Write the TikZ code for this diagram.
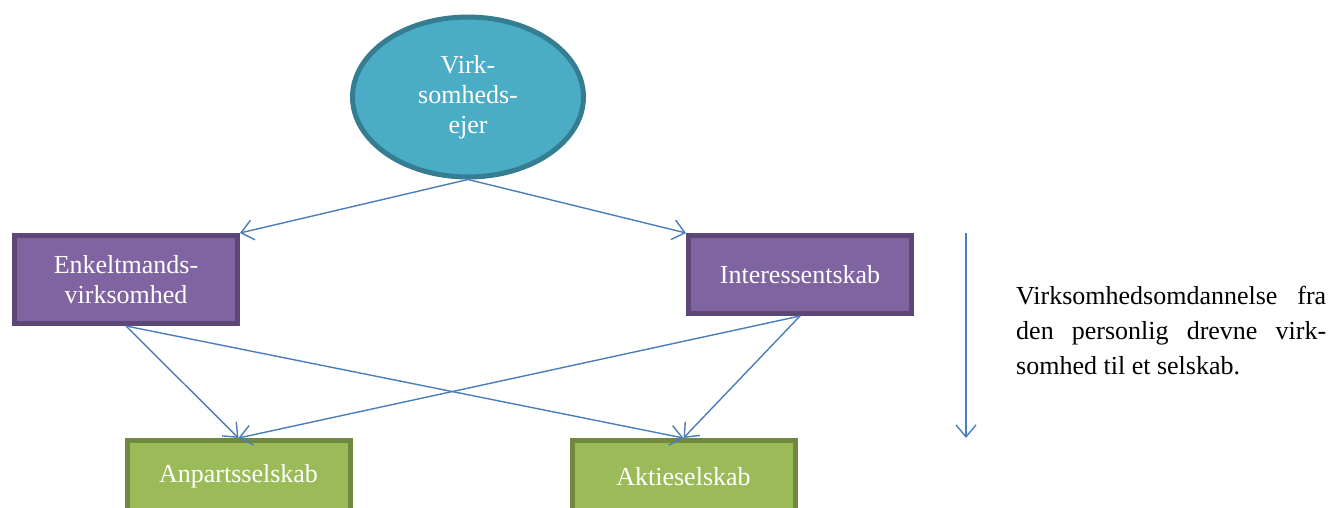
\documentclass[tikz,border=0pt]{standalone}
\usepackage{xcolor}
\usepackage{fontspec}
\setmainfont{Liberation Serif}
\usepackage{tikz}
\usetikzlibrary{arrows.meta}
\usetikzlibrary{shapes.geometric}
\definecolor{ejerfill}{HTML}{4BACC6}
\definecolor{ejerline}{HTML}{357D91}
\definecolor{personfill}{HTML}{8064A2}
\definecolor{personline}{HTML}{5C4776}
\definecolor{selskabfill}{HTML}{9BBB59}
\definecolor{selskabline}{HTML}{71893F}
\definecolor{pil}{HTML}{4A7EBB}
\tikzset{>={Straight Barb[length = 12pt, width = 20pt]}}
\tikzstyle{ejer} = [ellipse, draw = ejerline, fill = ejerfill, line width = 5pt, text = white, align = center, minimum width = 231, minimum height = 160, inner sep = 0]
\tikzstyle{person} = [rectangle, draw = personline, fill = personfill, line width = 5pt, text = white, align = center, minimum width = 223, inner sep = 0]
\tikzstyle{selskab} = [rectangle, draw = selskabline, fill = selskabfill, line width = 5pt, text = white, align = center, minimum width = 223, minimum height = 72, inner sep = 0]
\tikzstyle{pile} = [->, draw = pil, line width = 1.4pt]

\begin{document}
\begin{tikzpicture}[x = 1pt, y = -1pt, font = \fontsize{26}{30}\selectfont]
\useasboundingbox (0, 0) rectangle (1334, 507);
\clip (0, 0) rectangle (1334, 507);
\node [ejer] (EJ) at (468, 97) {Virk-\\somheds-\\ejer};
\node [person, minimum height = 88] (EV) at (126, 279.5) {Enkeltmands-\\virksomhed};
\node [person, minimum height = 78] (IS) at (800, 274.5) {Interessentskab};
\node [selskab] (APS) at (238.5, 476.5) {Anpartsselskab};
\node [selskab] (AS) at (683.5, 476.5) {Aktieselskab};
\draw [pile] (EJ.south) to (EV.north east);
\draw [pile] (EJ.south) to (IS.north west);
\draw [pile] (EV.south) to (APS.north);
\draw [pile] (EV.south) to (AS.north);
\draw [pile] (IS.south) to (APS.north);
\draw [pile] (IS.south) to (AS.north);
\coordinate (T0) at (966, 233);
\coordinate (T1) at (966, 438);
\draw [pile] (T0) to (T1);
\node [text width = 310, align = justify, inner sep = 0, anchor = north west, font = \fontsize{26}{35}\selectfont] (TXT) at (1016, 286) {Virksomhedsomdannelse fra\linebreak den personlig drevne virk-\linebreak somhed til et selskab.};
\end{tikzpicture}
\end{document}
